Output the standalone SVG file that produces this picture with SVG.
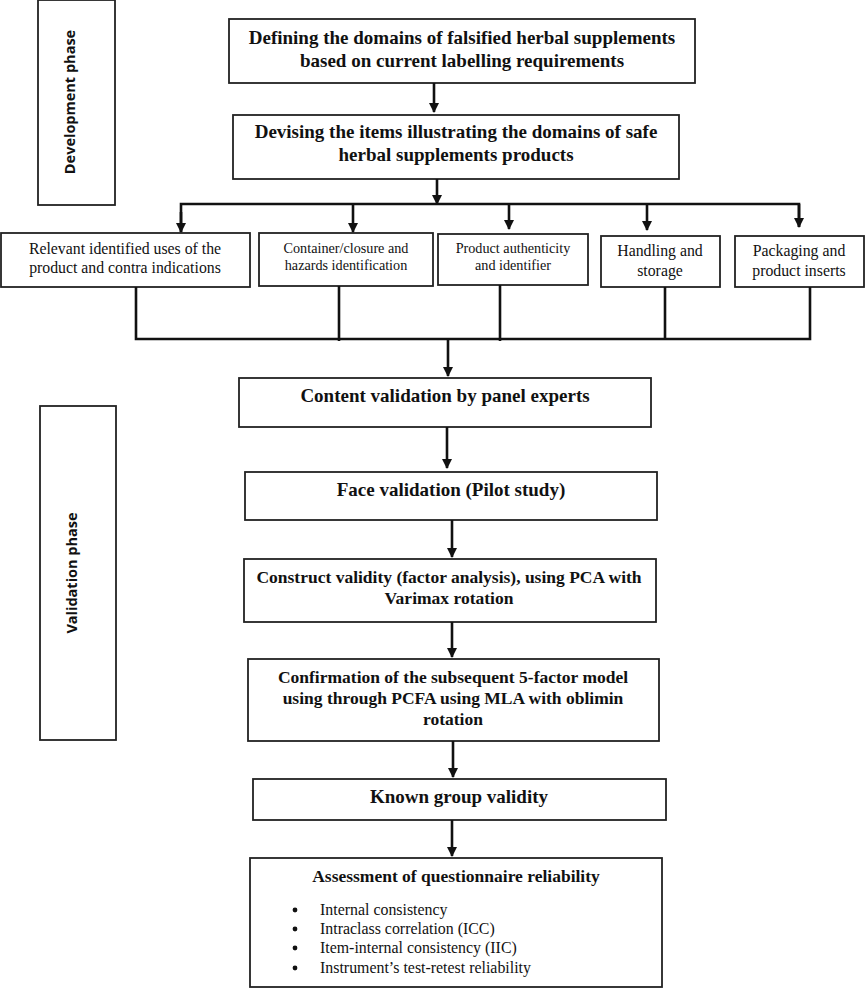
<svg xmlns="http://www.w3.org/2000/svg" width="865" height="988" viewBox="0 0 865 988">
<style>
.box{fill:#fff;stroke:#222;stroke-width:1.8}
.h{font-family:"Liberation Serif","Times New Roman",serif;font-weight:bold;font-size:19px;fill:#111;text-anchor:middle}
.h2{font-size:17.5px}
.r{font-family:"Liberation Serif","Times New Roman",serif;font-size:15.8px;fill:#111;text-anchor:middle}
.s{font-family:"Liberation Serif","Times New Roman",serif;font-size:14.2px;fill:#111;text-anchor:middle}
.b{font-family:"Liberation Serif","Times New Roman",serif;font-size:15.9px;fill:#111}
.p{font-family:"Open Sans","Liberation Sans",sans-serif;font-weight:bold;font-size:14.5px;fill:#111;text-anchor:middle}
.c{fill:none;stroke:#111;stroke-width:2.6}
</style>
<defs>
<marker id="ah" markerWidth="10" markerHeight="11" refX="9" refY="5" orient="auto" markerUnits="userSpaceOnUse" viewBox="0 0 10 10">
<path d="M0,0 L10,5 L0,10 z" fill="#111"/>
</marker>
</defs>
<g id="dev-phase">
<rect class="box" x="38" y="0" width="77" height="205"/>
<text class="p" transform="translate(75,102) rotate(-90)">Development phase</text>
</g>
<g id="val-phase">
<rect class="box" x="40" y="406" width="76" height="334"/>
<text class="p" transform="translate(77,573) rotate(-90)">Validation phase</text>
</g>
<g id="n1">
<rect class="box" x="229" y="19" width="466" height="64"/>
<text class="h" x="462" y="44">Defining the domains of falsified herbal supplements</text>
<text class="h" x="462" y="67">based on current labelling requirements</text>
</g>
<g id="n2">
<rect class="box" x="233" y="115" width="446" height="64"/>
<text class="h" x="456" y="138">Devising the items illustrating the domains of safe</text>
<text class="h" x="456" y="161">herbal supplements products</text>
</g>
<g id="d1">
<rect class="box" x="1" y="233" width="249" height="54"/>
<text class="r" x="125" y="254">Relevant identified uses of the</text>
<text class="r" x="125" y="273">product and contra indications</text>
</g>
<g id="d2">
<rect class="box" x="259" y="233" width="174" height="53"/>
<text class="s" x="346" y="253">Container/closure and</text>
<text class="s" x="346" y="270">hazards identification</text>
</g>
<g id="d3">
<rect class="box" x="438" y="234" width="150" height="51"/>
<text class="s" x="513" y="253">Product authenticity</text>
<text class="s" x="513" y="270">and identifier</text>
</g>
<g id="d4">
<rect class="box" x="601" y="236" width="119" height="51"/>
<text class="r" x="660" y="256">Handling and</text>
<text class="r" x="660" y="276">storage</text>
</g>
<g id="d5">
<rect class="box" x="735" y="236" width="129" height="51"/>
<text class="r" x="799" y="256">Packaging and</text>
<text class="r" x="799" y="276">product inserts</text>
</g>
<g id="n3">
<rect class="box" x="239" y="378" width="412" height="49"/>
<text class="h" x="445" y="402">Content validation by panel experts</text>
</g>
<g id="n4">
<rect class="box" x="245" y="472" width="412" height="48"/>
<text class="h" x="451" y="496">Face validation (Pilot study)</text>
</g>
<g id="n5">
<rect class="box" x="244" y="559" width="412" height="63"/>
<text class="h h2" x="449" y="583">Construct validity (factor analysis), using PCA with</text>
<text class="h h2" x="449" y="604">Varimax rotation</text>
</g>
<g id="n6">
<rect class="box" x="248" y="659" width="411" height="82"/>
<text class="h h2" x="453" y="683">Confirmation of the subsequent 5-factor model</text>
<text class="h h2" x="453" y="704">using through PCFA using MLA with oblimin</text>
<text class="h h2" x="453" y="725">rotation</text>
</g>
<g id="n7">
<rect class="box" x="253" y="779" width="413" height="41"/>
<text class="h" x="459" y="803">Known group validity</text>
</g>
<g id="n8">
<rect class="box" x="250" y="858" width="412" height="129"/>
<text class="h" x="456" y="882" style="font-size:17.5px">Assessment of questionnaire reliability</text>
<circle cx="295" cy="910" r="2.4" fill="#111"/>
<circle cx="295" cy="929" r="2.4" fill="#111"/>
<circle cx="295" cy="948" r="2.4" fill="#111"/>
<circle cx="295" cy="968" r="2.4" fill="#111"/>
<text class="b" x="320" y="915">Internal consistency</text>
<text class="b" x="320" y="934">Intraclass correlation (ICC)</text>
<text class="b" x="320" y="953">Item-internal consistency (IIC)</text>
<text class="b" x="320" y="973">Instrument’s test-retest reliability</text>
</g>
<g id="connectors">
<line class="c" x1="434" y1="83" x2="434" y2="112" marker-end="url(#ah)"/>
<line class="c" x1="437" y1="179" x2="437" y2="204" marker-end="url(#ah)"/>
<polyline class="c" points="181,232 181,204 799,204 799,227"/>
<line class="c" x1="181" y1="212" x2="181" y2="232" marker-end="url(#ah)"/>
<line class="c" x1="353" y1="204" x2="353" y2="232" marker-end="url(#ah)"/>
<line class="c" x1="509" y1="204" x2="509" y2="229" marker-end="url(#ah)"/>
<line class="c" x1="647" y1="204" x2="647" y2="230" marker-end="url(#ah)"/>
<line class="c" x1="799" y1="204" x2="799" y2="227" marker-end="url(#ah)"/>
<polyline class="c" points="136,287 136,339 810,339 810,287"/>
<line class="c" x1="339" y1="286" x2="339" y2="341"/>
<line class="c" x1="500" y1="285" x2="500" y2="341"/>
<line class="c" x1="665" y1="287" x2="665" y2="339"/>
<line class="c" x1="448" y1="339" x2="448" y2="376" marker-end="url(#ah)"/>
<line class="c" x1="447" y1="427" x2="447" y2="468" marker-end="url(#ah)"/>
<line class="c" x1="452" y1="520" x2="452" y2="557" marker-end="url(#ah)"/>
<line class="c" x1="452" y1="622" x2="452" y2="657" marker-end="url(#ah)"/>
<line class="c" x1="453" y1="741" x2="453" y2="777" marker-end="url(#ah)"/>
<line class="c" x1="452" y1="820" x2="452" y2="856" marker-end="url(#ah)"/>
</g>
</svg>
